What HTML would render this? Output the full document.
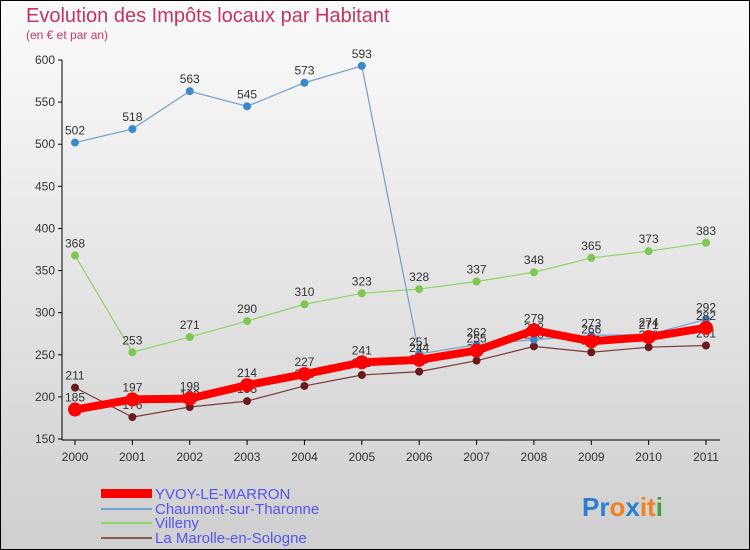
<!DOCTYPE html>
<html><head><meta charset="utf-8"><style>
body{margin:0}
#c{width:750px;height:550px;position:relative;overflow:hidden;font-family:"Liberation Sans",sans-serif}
</style></head><body>
<div id="c">
<svg id="s" width="750" height="550" xmlns="http://www.w3.org/2000/svg">
<defs><linearGradient id="bg" x1="0" y1="0" x2="0" y2="1"><stop offset="0" stop-color="#fbfbfb"/><stop offset="1" stop-color="#cfcfcf"/></linearGradient></defs>
<rect x="0.5" y="0.5" width="749" height="549" fill="url(#bg)" stroke="#000"/>
<text x="26" y="22" font-size="20" fill="#c8325f">Evolution des Impôts locaux par Habitant</text>
<text x="26" y="39" font-size="12" fill="#c8325f">(en € et par an)</text>
<g id="axes"></g><g id="series"></g>
<g font-size="15" fill="#5555ee">
<rect x="101" y="489" width="51" height="9" fill="#f00"/>
<text x="155" y="499">YVOY-LE-MARRON</text>
<rect x="101" y="508" width="51" height="2" fill="#6fa0cc"/>
<text x="155" y="514">Chaumont-sur-Tharonne</text>
<rect x="101" y="522" width="51" height="2" fill="#8ed468"/>
<text x="155" y="528">Villeny</text>
<rect x="101" y="537" width="51" height="2" fill="#8a5a5a"/>
<text x="155" y="543">La Marolle-en-Sologne</text>
</g>
<g font-size="26" font-weight="bold" font-family="Liberation Sans,sans-serif">
<text x="582" y="516"><tspan fill="#2a7fd0">Pr</tspan><tspan fill="#f08020">o</tspan><tspan fill="#2a7fd0">x</tspan><tspan fill="#f08020">it</tspan><tspan fill="#40a040">i</tspan></text>
</g>
</svg>
</div>
<script>
const years=["2000","2001","2002","2003","2004","2005","2006","2007","2008","2009","2010","2011"];
const yTicks=[150,200,250,300,350,400,450,500,550,600];
const yvoy=[185,197,198,214,227,241,244,255,279,266,271,282];
const chaumont=[502,518,563,545,573,593,251,262,268,273,274,292];
const villeny=[368,253,271,290,310,323,328,337,348,365,373,383];
const marolle=[211,176,188,195,213,226,230,243,260,253,259,261];
const NS="http://www.w3.org/2000/svg";
const X=i=>75+i*(706-75)/11;
const Y=v=>439-(v-150)*(379/450);
function mk(t,a,p){const e=document.createElementNS(NS,t);for(const k in a)e.setAttribute(k,a[k]);p.appendChild(e);return e;}
const ax=document.getElementById('axes');
const yl=mk('line',{x1:62,y1:Y(600),x2:62,y2:440,stroke:'#000'},ax);


const xl=mk('line',{x1:62,y1:440,x2:720,y2:440,stroke:'#000'},ax);


yTicks.forEach(v=>{
 mk('line',{x1:58,y1:Y(v),x2:62,y2:Y(v),stroke:'#000'},ax);
 const t=mk('text',{x:55,y:Y(v)+4,'text-anchor':'end','font-size':12,fill:'#333'},ax);
 t.textContent=v;
 
 
});
years.forEach((y,i)=>{
 mk('line',{x1:X(i),y1:440,x2:X(i),y2:445,stroke:'#000'},ax);
 const t=mk('text',{x:X(i),y:461,'text-anchor':'middle','font-size':12,fill:'#333'},ax);
 t.textContent=y;
 
 
});
const sg=document.getElementById('series');
function draw(data,name,col,w,r,dot){
 const g=mk('g',{},sg);
 
 
 const l=mk('polyline',{points:data.map((v,i)=>X(i)+','+Y(v)).join(' '),fill:'none',stroke:col,'stroke-width':w,'stroke-linejoin':'round'},g);
 
 
 data.forEach((v,i)=>{
  const c=mk('circle',{cx:X(i),cy:Y(v),r:r,fill:dot},g);
  
  
  const t=mk('text',{x:X(i),y:Y(v)-8,'text-anchor':'middle','font-size':12,fill:'#333'},g);
  t.textContent=v;
  
  
 });
}
draw(marolle,'marolle','#7a3a3a',1.2,4,'#6a1a1a');
draw(villeny,'villeny','#8ed468',1.2,4,'#7cc850');
draw(chaumont,'chaumont','#6fa0cc',1.2,4,'#3a88cc');
draw(yvoy,'yvoy','#f00',8,7,'#f00');
</script>
</body></html>
